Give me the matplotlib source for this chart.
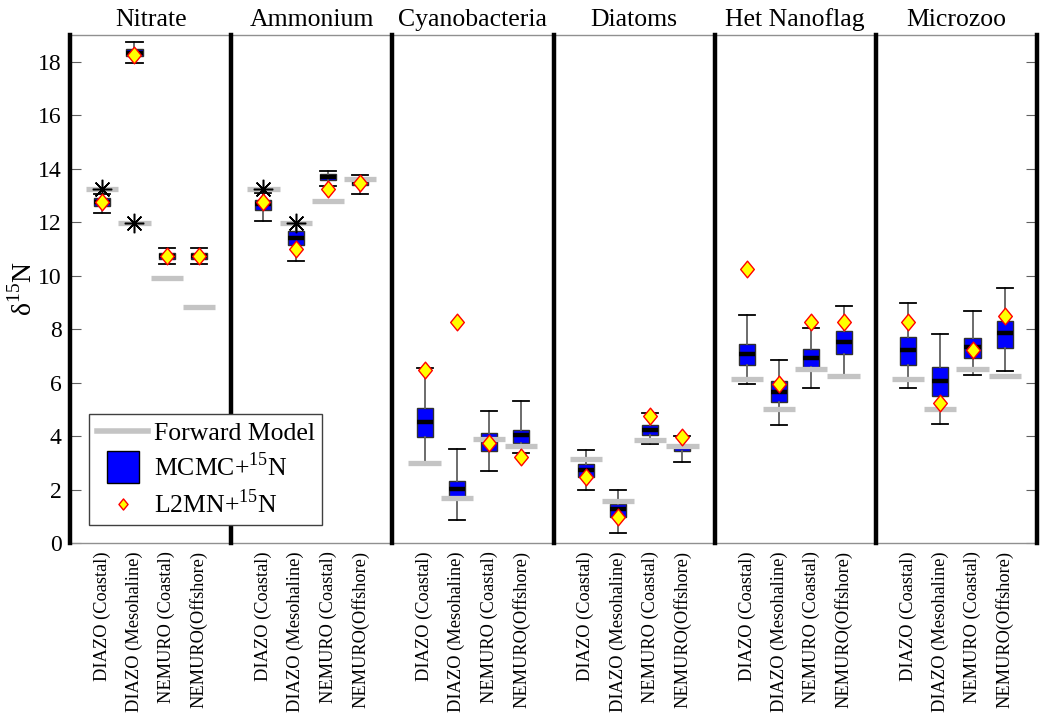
import numpy as np
import matplotlib
matplotlib.use("Agg")
import matplotlib.pyplot as plt
from matplotlib.lines import Line2D
from matplotlib.path import Path

plt.rcParams['font.family'] = ['Liberation Serif', 'DejaVu Serif']
plt.rcParams['mathtext.fontset'] = 'custom'
plt.rcParams['mathtext.rm'] = 'Liberation Serif'

# ---- data -------------------------------------------------------------
panels = ['Nitrate', 'Ammonium', 'Cyanobacteria', 'Diatoms', 'Het Nanoflag', 'Microzoo']
cases = ['DIAZO (Coastal)', 'DIAZO (Mesohaline)', 'NEMURO (Coastal)', 'NEMURO(Offshore)']

# forward model delta15N per panel / case
forward = [
    [13.25, 11.96, 9.91, 8.83],
    [13.25, 11.96, 12.80, 13.61],
    [2.98, 1.70, 3.88, 3.63],
    [3.13, 1.56, 3.84, 3.62],
    [6.15, 5.01, 6.50, 6.24],
    [6.15, 5.01, 6.50, 6.24],
]

# L2MN+15N estimates
l2mn = [
    [12.74, 18.26, 10.74, 10.74],
    [12.74, 11.00, 13.24, 13.46],
    [6.47, 8.25, 3.73, 3.21],
    [2.46, 0.96, 4.75, 3.96],
    [10.25, 5.95, 8.26, 8.26],
    [8.26, 5.23, 7.22, 8.50],
]

# observed values (nutrients, DIAZO cases only)
observed = [
    [13.25, 11.96, np.nan, np.nan],
    [13.25, 11.96, np.nan, np.nan],
    [np.nan] * 4,
    [np.nan] * 4,
    [np.nan] * 4,
    [np.nan] * 4,
]

# MCMC+15N posterior summaries: whisker low, q1, median, q3, whisker high
mcmc_whislo = [
    [12.34, 17.95, 10.44, 10.42],
    [12.05, 10.55, 13.36, 13.05],
    [3.00, 0.85, 2.71, 3.38],
    [1.98, 0.36, 3.69, 3.04],
    [5.94, 4.40, 5.81, 6.24],
    [5.79, 4.45, 6.29, 6.43],
]
mcmc_q1 = [
    [12.60, 18.20, 10.61, 10.62],
    [12.47, 11.15, 13.58, 13.40],
    [3.98, 1.73, 3.44, 3.73],
    [2.46, 0.96, 4.03, 3.43],
    [6.64, 5.29, 6.59, 7.07],
    [6.66, 5.50, 6.91, 7.31],
]
mcmc_med = [
    [12.74, 18.33, 10.74, 10.74],
    [12.69, 11.40, 13.70, 13.50],
    [4.54, 2.02, 3.88, 4.04],
    [2.72, 1.27, 4.23, 3.60],
    [7.06, 5.66, 6.92, 7.50],
    [7.22, 6.05, 7.32, 7.85],
]
mcmc_q3 = [
    [12.90, 18.48, 10.86, 10.86],
    [12.84, 11.68, 13.80, 13.58],
    [5.04, 2.32, 4.10, 4.23],
    [2.96, 1.46, 4.40, 3.67],
    [7.44, 6.06, 7.26, 7.91],
    [7.71, 6.57, 7.66, 8.30],
]
mcmc_whishi = [
    [13.05, 18.72, 11.05, 11.03],
    [13.10, 11.95, 13.90, 13.75],
    [6.54, 3.52, 4.95, 5.30],
    [3.48, 1.98, 4.85, 4.00],
    [8.51, 6.84, 8.05, 8.87],
    [8.98, 7.80, 8.68, 9.52],
]

# ---- figure -------------------------------------------------------------
fig = plt.figure(figsize=(10.42, 7.21), dpi=100)
ax = fig.add_axes([0.0672, 0.2469, 0.9280, 0.7046])

GRAY = '#c4c4c4'
diamond = Path([(0, 1), (0.82, 0), (0, -1), (-0.82, 0), (0, 1)],
               [Path.MOVETO, Path.LINETO, Path.LINETO, Path.LINETO, Path.CLOSEPOLY])

n_case = len(cases)
span = n_case + 1
positions, labels, stats = [], [], []
fwd_all, l2_all, obs_all = [], [], []
for p in range(len(panels)):
    for c in range(n_case):
        x = p * span + c + 1
        positions.append(x)
        labels.append(cases[c])
        stats.append(dict(whislo=mcmc_whislo[p][c], q1=mcmc_q1[p][c], med=mcmc_med[p][c],
                          q3=mcmc_q3[p][c], whishi=mcmc_whishi[p][c], fliers=[]))
        fwd_all.append(forward[p][c])
        l2_all.append(l2mn[p][c])
        obs_all.append(observed[p][c])
positions = np.array(positions)

ax.bxp(stats, positions=positions, widths=0.5, capwidths=0.5, patch_artist=True,
       manage_ticks=False,
       boxprops=dict(facecolor='#0000ff', edgecolor='#303030', linewidth=1.0),
       medianprops=dict(color='black', linewidth=3.2),
       whiskerprops=dict(color='#606060', linewidth=1.3),
       capprops=dict(color='black', linewidth=1.3),
       zorder=2)

ax.hlines(fwd_all, positions - 0.5, positions + 0.5, colors=GRAY, linewidth=3.8, zorder=3)
ax.plot(positions, obs_all, ls='none', marker=(8, 2, 0), ms=14, mew=1.1, color='black', zorder=4)
ax.plot(positions, l2_all, ls='none', marker=diamond, ms=12, mfc='#ffff00', mec='#ff0000',
        mew=1.0, zorder=5)

# panel separators
for p in range(len(panels) + 1):
    ax.axvline(p * span, color='black', linewidth=3.2, zorder=6, clip_on=False)
for p, name in enumerate(panels):
    ax.annotate(name, xy=(p * span + span / 2, 1.0), xycoords=('data', 'axes fraction'),
                xytext=(0, 3), textcoords='offset points', ha='center', va='bottom',
                fontsize=18.5)

ax.set_xlim(0, len(panels) * span)
ax.set_ylim(0, 19)
ax.set_yticks(np.arange(0, 19, 2))
ax.set_xticks(positions)
ax.set_xticklabels(labels, rotation=90, fontsize=13.2)
ax.tick_params(axis='x', length=0, pad=6)
ax.tick_params(axis='y', direction='in', right=True, length=8, width=0.8, color='#606060',
               labelsize=17, pad=6)
for s in ('left', 'right'):
    ax.spines[s].set_visible(False)
for s in ('top', 'bottom'):
    ax.spines[s].set_color('#909090')
    ax.spines[s].set_linewidth(1.0)

ax.set_ylabel('δ$^{\\mathregular{15}}$N', fontsize=20, labelpad=0)

handles = [
    Line2D([], [], color=GRAY, linewidth=4),
    Line2D([], [], ls='none', marker='s', ms=23, mfc='#0000ff', mec='black', mew=1.0),
    Line2D([], [], ls='none', marker=diamond, ms=8, mfc='#ffff00', mec='#ff0000', mew=1.0),
]
leg_labels = ['Forward Model', 'MCMC+$^{\\mathregular{15}}$N', 'L2MN+$^{\\mathregular{15}}$N']
leg = ax.legend(handles, leg_labels, loc='lower left', bbox_to_anchor=(0.02, 0.035),
                fontsize=18.5, frameon=True, fancybox=False, edgecolor='#404040',
                framealpha=1, borderpad=0.3, labelspacing=0.3, handletextpad=0.2,
                borderaxespad=0, handlelength=2.0)
leg.get_frame().set_linewidth(1.0)
leg.set_zorder(10)

fig.savefig('out.png', dpi=100)
